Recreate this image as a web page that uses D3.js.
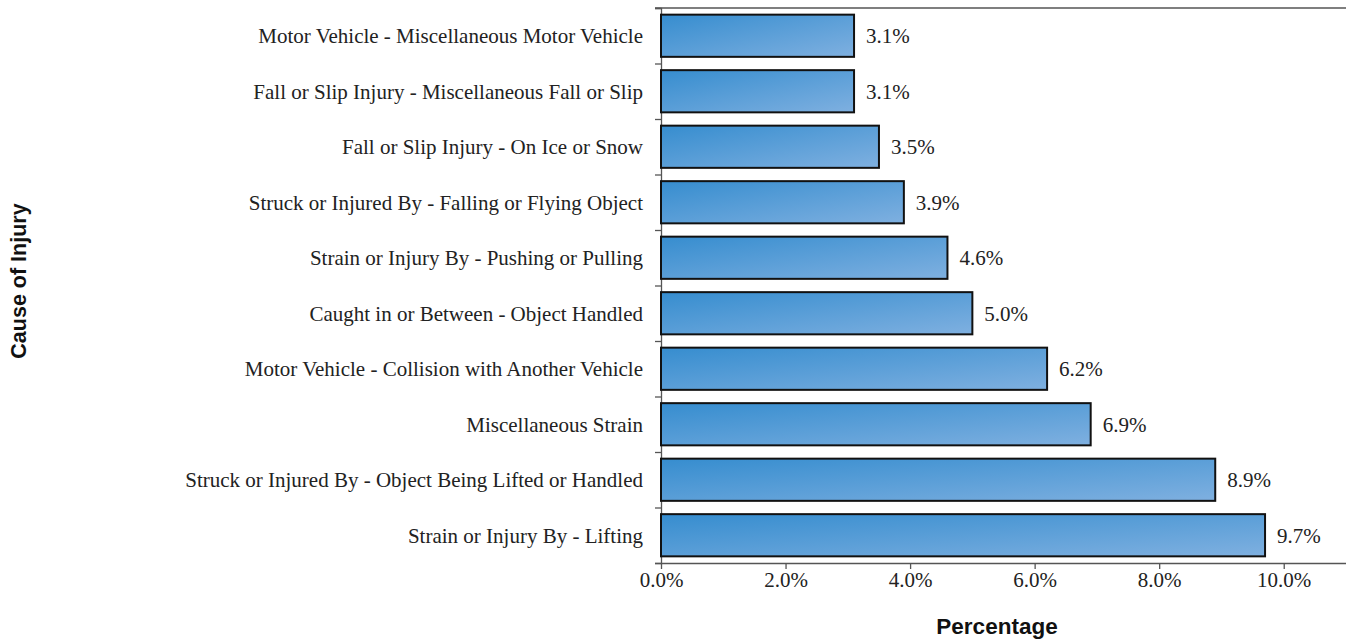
<!DOCTYPE html>
<html>
<head>
<meta charset="utf-8">
<script src="https://cdn.jsdelivr.net/npm/d3@7/dist/d3.min.js"></script>
<style>
  html, body { margin: 0; padding: 0; background: #fff; }
  svg { display: block; }
</style>
</head>
<body>
<svg id="chart" width="1346" height="640"></svg>
<script>
// Causes of injury, top to bottom, with their share of all injuries (%)
const causes = [
  "Motor Vehicle - Miscellaneous Motor Vehicle",
  "Fall or Slip Injury - Miscellaneous Fall or Slip",
  "Fall or Slip Injury - On Ice or Snow",
  "Struck or Injured By - Falling or Flying Object",
  "Strain or Injury By - Pushing or Pulling",
  "Caught in or Between - Object Handled",
  "Motor Vehicle - Collision with Another Vehicle",
  "Miscellaneous Strain",
  "Struck or Injured By - Object Being Lifted or Handled",
  "Strain or Injury By - Lifting"
];
const percents = [3.1, 3.1, 3.5, 3.9, 4.6, 5.0, 6.2, 6.9, 8.9, 9.7];
const xTicks = [0, 2, 4, 6, 8, 10];
const xMax = 11;

const svg = d3.select("#chart");
const margin = { left: 661, right: 0, top: 8, bottom: 77 };
const W = 1346, H = 640;

const x = d3.scaleLinear().domain([0, xMax]).range([margin.left, W - margin.right]);
const y = d3.scaleBand().domain(causes).range([margin.top, H - margin.bottom]).paddingInner(0.24).paddingOuter(0.12);

// Bar fill gradient
const defs = svg.append("defs");
const grad = defs.append("linearGradient").attr("id", "barFill")
  .attr("x1", "0").attr("y1", "0").attr("x2", "1").attr("y2", "1");
grad.append("stop").attr("offset", "0%").attr("stop-color", "#368dcf");
grad.append("stop").attr("offset", "100%").attr("stop-color", "#7fb0e0");

const serif = "'Liberation Serif', 'Times New Roman', serif";
const sans = "'Liberation Sans', Arial, sans-serif";
const labelSize = 21;

// Frame line along the top
svg.append("line")
  .attr("x1", margin.left - 6).attr("x2", W)
  .attr("y1", margin.top).attr("y2", margin.top)
  .attr("stroke", "#555").attr("stroke-width", 1.3);

// Left axis: ticks at category boundaries
const yTop = margin.top, yBot = H - margin.bottom;
const yEdge = d3.scaleLinear().domain([0, causes.length]).range([yTop, yBot]);
const yAxis = d3.axisLeft(yEdge).ticks(causes.length).tickSize(6).tickFormat("");
svg.append("g")
  .attr("transform", `translate(${margin.left},0)`)
  .call(yAxis)
  .call(g => g.selectAll("path.domain").attr("stroke", "#555").attr("stroke-width", 1.3))
  .call(g => g.selectAll(".tick line").attr("stroke", "#555").attr("stroke-width", 1.3));

// Bottom axis
const xAxis = d3.axisBottom(x).tickValues(xTicks).tickSize(6).tickSizeOuter(0)
  .tickFormat(d => d.toFixed(1) + "%");
svg.append("g")
  .attr("transform", `translate(0,${yBot})`)
  .call(xAxis)
  .call(g => g.select("path.domain").attr("stroke", "#555").attr("stroke-width", 1.3))
  .call(g => g.selectAll(".tick line").attr("stroke", "#555").attr("stroke-width", 1.3))
  .call(g => g.selectAll(".tick text")
    .attr("font-family", serif).attr("font-size", labelSize).attr("fill", "#222"));

// Category labels
svg.append("g").selectAll("text").data(causes).join("text")
  .attr("x", margin.left - 18)
  .attr("y", d => y(d) + y.bandwidth() / 2)
  .attr("dy", "0.35em")
  .attr("text-anchor", "end")
  .attr("font-family", serif).attr("font-size", labelSize).attr("fill", "#222")
  .text(d => d);

// Bars
const rows = causes.map((c, i) => ({ cause: c, value: percents[i] }));
svg.append("g").selectAll("rect").data(rows).join("rect")
  .attr("x", x(0))
  .attr("y", d => y(d.cause))
  .attr("width", d => x(d.value) - x(0))
  .attr("height", y.bandwidth())
  .attr("fill", "url(#barFill)")
  .attr("stroke", "#111").attr("stroke-width", 2);

// Value labels
svg.append("g").selectAll("text").data(rows).join("text")
  .attr("x", d => x(d.value) + 12)
  .attr("y", d => y(d.cause) + y.bandwidth() / 2)
  .attr("dy", "0.35em")
  .attr("font-family", serif).attr("font-size", labelSize).attr("fill", "#222")
  .text(d => d.value.toFixed(1) + "%");

// Axis titles
svg.append("text")
  .attr("x", 997).attr("y", 634)
  .attr("text-anchor", "middle")
  .attr("font-family", sans).attr("font-weight", "bold").attr("font-size", 22.5).attr("fill", "#111")
  .text("Percentage");

svg.append("text")
  .attr("transform", `translate(26,281) rotate(-90)`)
  .attr("text-anchor", "middle")
  .attr("font-family", sans).attr("font-weight", "bold").attr("font-size", 21.5).attr("fill", "#111")
  .text("Cause of Injury");
</script>
</body>
</html>
